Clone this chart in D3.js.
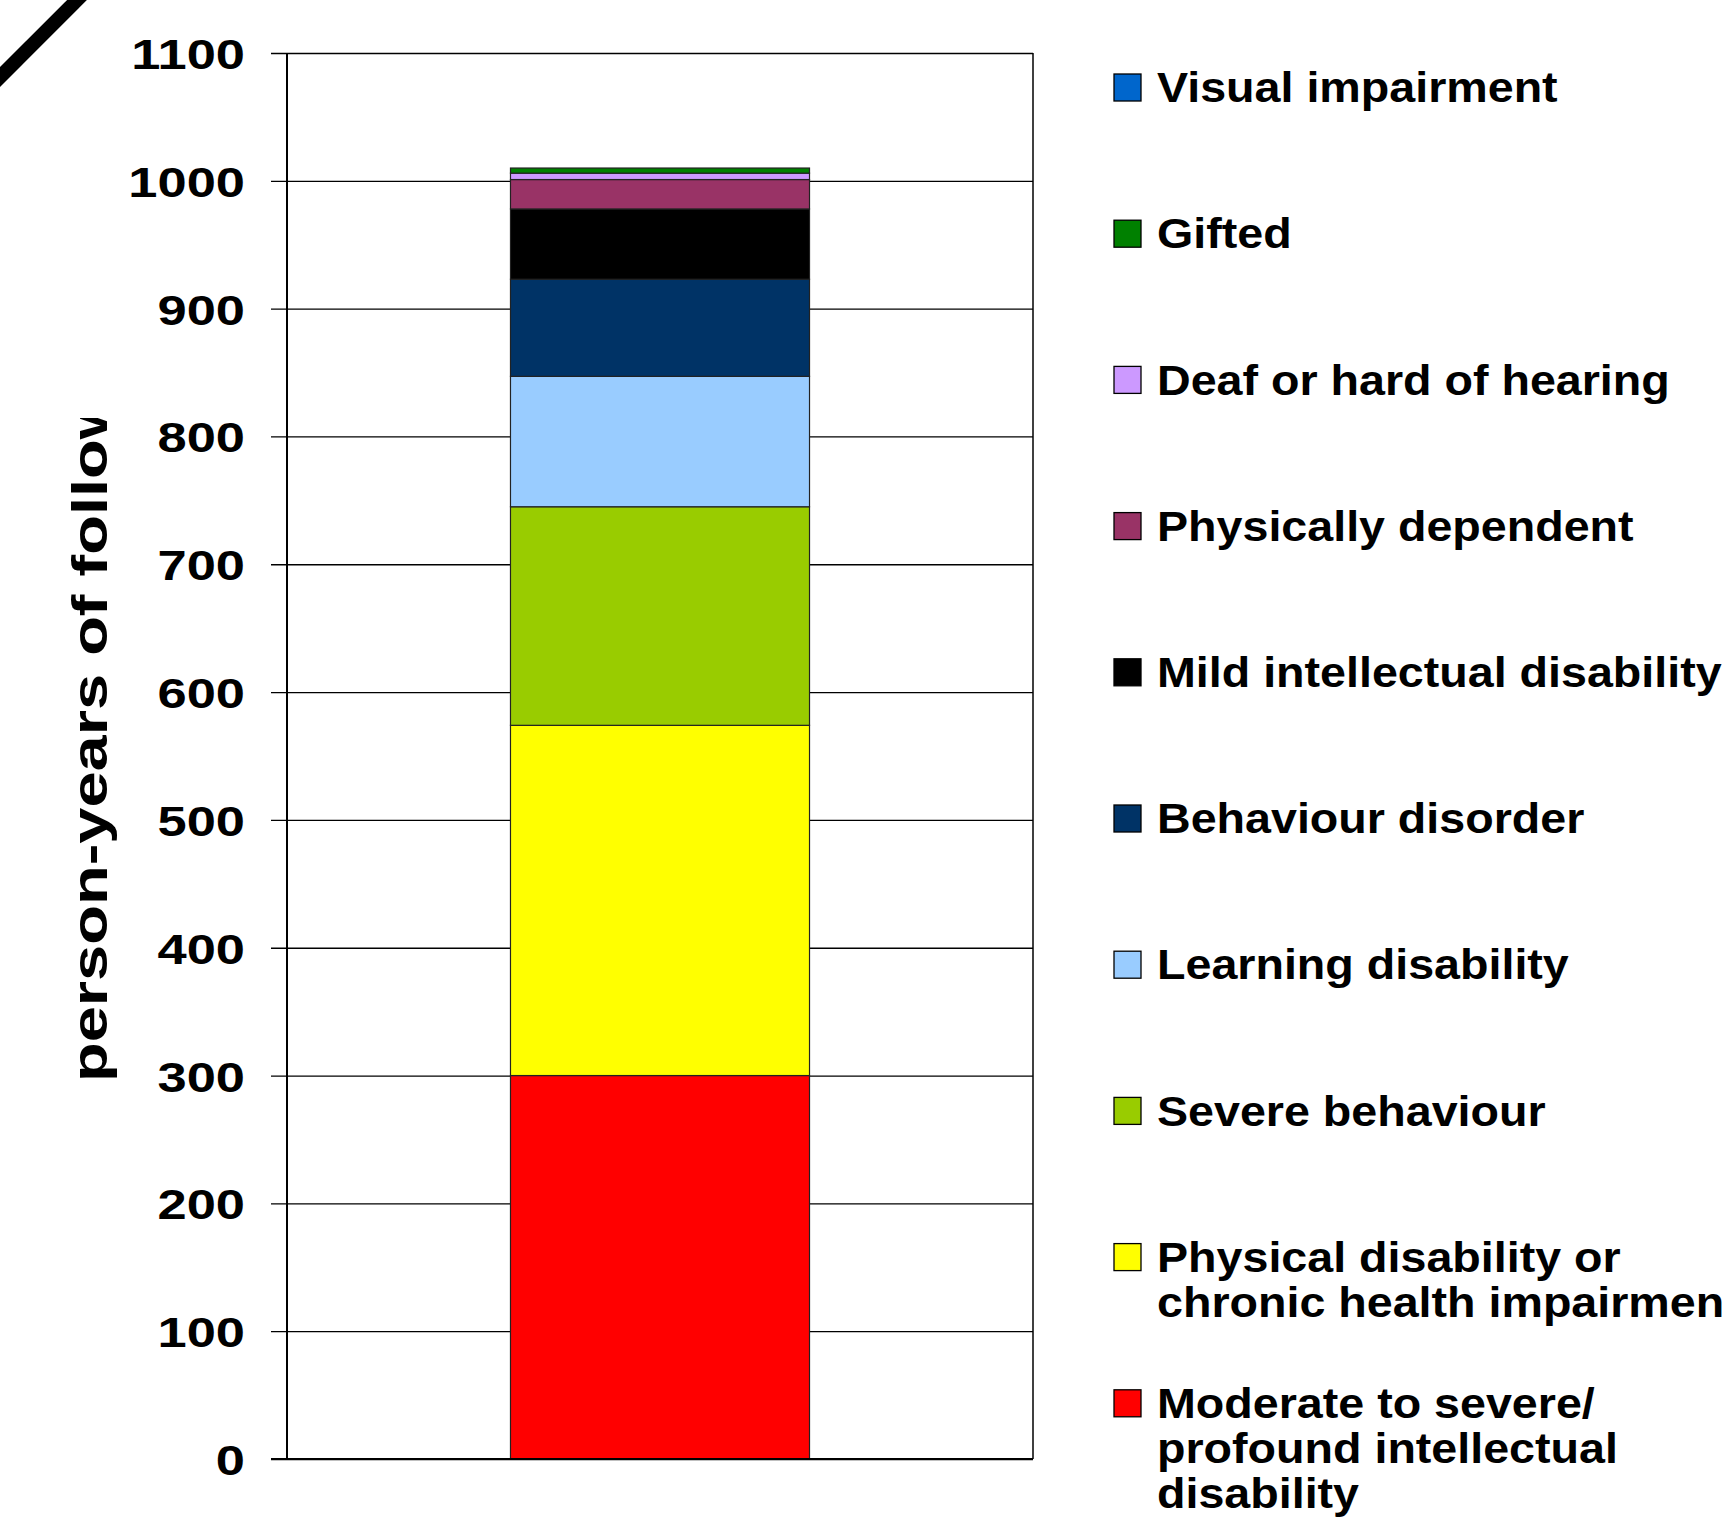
<!DOCTYPE html>
<html>
<head>
<meta charset="utf-8">
<script src="https://cdn.jsdelivr.net/npm/d3@7"></script>
<style>
  body { margin: 0; background: #fff; }
  text { font-family: "Liberation Sans", Arial, sans-serif; font-weight: bold; }
</style>
</head>
<body>
<svg id="chart" width="1723" height="1521"></svg>
<script>
// categories, bottom to top of the stack
var categories = [
  "Moderate to severe/ profound intellectual disability",
  "Physical disability or chronic health impairment",
  "Severe behaviour",
  "Learning disability",
  "Behaviour disorder",
  "Mild intellectual disability",
  "Physically dependent",
  "Deaf or hard of hearing",
  "Gifted",
  "Visual impairment"
]
var values = [300, 274, 171, 102, 76, 55, 23, 5, 4, 0]
var colors = ["#FF0000", "#FFFF00", "#99CC00", "#99CCFF", "#003366",
              "#000000", "#993366", "#CC99FF", "#008000", "#0066CC"]
// legend lines, top to bottom
var legendLines = [
  ["Visual impairment"],
  ["Gifted"],
  ["Deaf or hard of hearing"],
  ["Physically dependent"],
  ["Mild intellectual disability"],
  ["Behaviour disorder"],
  ["Learning disability"],
  ["Severe behaviour"],
  ["Physical disability or", "chronic health impairment"],
  ["Moderate to severe/", "profound intellectual", "disability"]
]
var tickValues = [0, 100, 200, 300, 400, 500, 600, 700, 800, 900, 1000, 1100]
var yTitle = "person-years of follow-up"

var svg = d3.select("#chart")
var plotLeft = 287, plotRight = 1033, plotTop = 53, plotBottom = 1459

var y = d3.scaleLinear().domain([0, 1100]).range([plotBottom, plotTop])
var x = d3.scaleBand().domain(["all"]).range([plotLeft, plotRight]).padding(0.4277)

// stacked data
var row = {key: "all"}
categories.forEach(function(c, i){ row[c] = values[i] })
var series = d3.stack().keys(categories)([row])

// grid + axis
var sx = 1.22
var axis = svg.append("g")
  .attr("transform", "translate(" + plotLeft + ",0)")
  .call(d3.axisLeft(y).tickValues(tickValues).tickFormat(d3.format("d"))
    .tickSize(-(plotRight - plotLeft)).tickSizeOuter(0))
axis.select(".domain").remove()
axis.selectAll("line").attr("x1", -16).attr("stroke", "#000").attr("stroke-width", 1.3)
axis.selectAll("text")
  .attr("x", -42 / sx)
  .attr("dy", "0.36em")
  .attr("transform", "scale(" + sx + ",1)")
  .style("font-size", "43px")
  .style("font-family", "'Liberation Sans', Arial, sans-serif")
  .style("font-weight", "bold")
  .attr("fill", "#000")

// plot frame (left and right)
svg.append("line").attr("x1", plotLeft).attr("x2", plotLeft).attr("y1", plotTop).attr("y2", plotBottom)
  .attr("stroke", "#000").attr("stroke-width", 2)
svg.append("line").attr("x1", plotRight).attr("x2", plotRight).attr("y1", plotTop).attr("y2", plotBottom)
  .attr("stroke", "#000").attr("stroke-width", 1.5)

// bars
svg.append("g").selectAll("rect")
  .data(series)
  .join("rect")
  .attr("x", x("all"))
  .attr("width", x.bandwidth())
  .attr("y", function(d){ return y(d[0][1]) })
  .attr("height", function(d){ return y(d[0][0]) - y(d[0][1]) })
  .attr("fill", function(d, i){ return colors[i] })
  .attr("stroke", "#222")
  .attr("stroke-width", 1.2)

// bottom axis line over bars
svg.append("line").attr("x1", plotLeft - 16).attr("x2", plotRight).attr("y1", plotBottom).attr("y2", plotBottom)
  .attr("stroke", "#000").attr("stroke-width", 2)

// y title, clipped at top
svg.append("clipPath").attr("id", "titleclip")
  .append("rect").attr("x", 0).attr("y", 418).attr("width", 200).attr("height", 1100)
svg.append("g").attr("clip-path", "url(#titleclip)")
  .append("text")
  .attr("transform", "translate(107,1082) rotate(-90) scale(1.3,1)")
  .style("font-size", "50px")
  .text(yTitle)

// legend
var legendColors = colors.slice().reverse()
var lg = svg.append("g").selectAll("g")
  .data(legendLines)
  .join("g")
  .attr("transform", function(d, i){ return "translate(1114," + (87 + i * 146.2) + ")" })
lg.append("rect")
  .attr("x", 0).attr("y", -13).attr("width", 27).attr("height", 27)
  .attr("fill", function(d, i){ return legendColors[i] })
  .attr("stroke", "#000").attr("stroke-width", 1.3)
lg.append("text")
  .attr("transform", "translate(43,0) scale(1.11,1)")
  .style("font-size", "42px")
  .selectAll("tspan")
  .data(function(d){ return d })
  .join("tspan")
  .attr("x", 0)
  .attr("y", function(d, i){ return i * 45 })
  .attr("dy", "0.36em")
  .text(function(d){ return d })

// stray diagonal stroke at top-left corner
svg.append("line").attr("x1", -5).attr("y1", 82).attr("x2", 82).attr("y2", -5)
  .attr("stroke", "#000").attr("stroke-width", 14)
</script>
</body>
</html>
